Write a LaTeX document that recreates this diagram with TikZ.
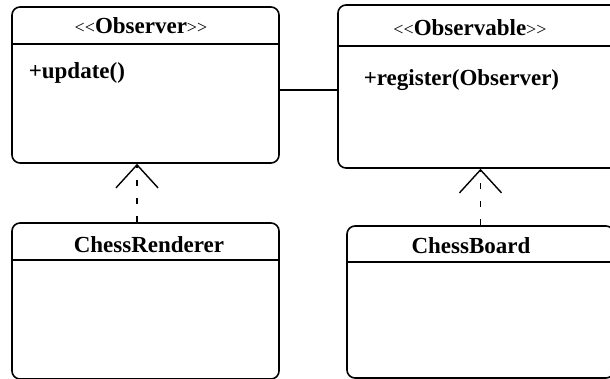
\documentclass[tikz,border=0pt]{standalone}
\usepackage{fontspec}
\setmainfont{Liberation Serif}
\usetikzlibrary{arrows.meta}

\newcommand{\stereo}[1]{{\mdseries\fontsize{9}{10}\selectfont<{}<}#1{\mdseries\fontsize{9}{10}\selectfont>{}>}}

\begin{document}
\begin{tikzpicture}
  [x=0.5pt,y=-0.5pt,line width=0.8pt,
   classbox/.style={draw,rounded corners=4pt,inner sep=0pt,minimum width=133.5pt},
   txt/.style={font=\bfseries\fontsize{11.5}{13}\selectfont,inner sep=0pt},
   realize/.style={dash pattern=on 3pt off 6pt,
     -{Straight Barb[length=11.5pt,width=21pt,line width=0.7pt]}}]
  \clip (0,0) rectangle (610,379);
  \node (observer)   at (145.5,85)  [classbox,minimum height=78pt] {};
  \node (observable) at (479,86.5)  [classbox,minimum width=141pt,minimum height=81.5pt] {};
  \node (renderer)   at (145.5,301) [classbox,minimum height=78pt] {};
  \node (board)      at (480.5,302) [classbox,minimum height=76pt] {};

  \node (t1) at (141,26)  [txt] {\stereo{Observer}};
  \node (t2) at (470,28)  [txt] {\stereo{Observable}};
  \node (t3) at (149,245) [txt] {ChessRenderer};
  \node (t4) at (471,246) [txt] {ChessBoard};
  \node (m1) at (28,73)   [txt,anchor=west] {+update()};
  \node (m2) at (363,80)  [txt,anchor=west] {+register(Observer)};

  \foreach \cls/\dy in {observer/19,observable/21,renderer/19,board/18.5}
    \draw ([yshift=-\dy pt]\cls.north west) -- ([yshift=-\dy pt]\cls.north east);

  \draw ([yshift=-2.5pt]observer.east) -- ([yshift=-1.75pt]observable.west);
  \draw[realize] ([xshift=-4.25pt]renderer.north) -- ([xshift=-4.25pt]observer.south);
  \draw[realize] (board.north) -- (board.north |- observable.south);
\end{tikzpicture}
\end{document}
